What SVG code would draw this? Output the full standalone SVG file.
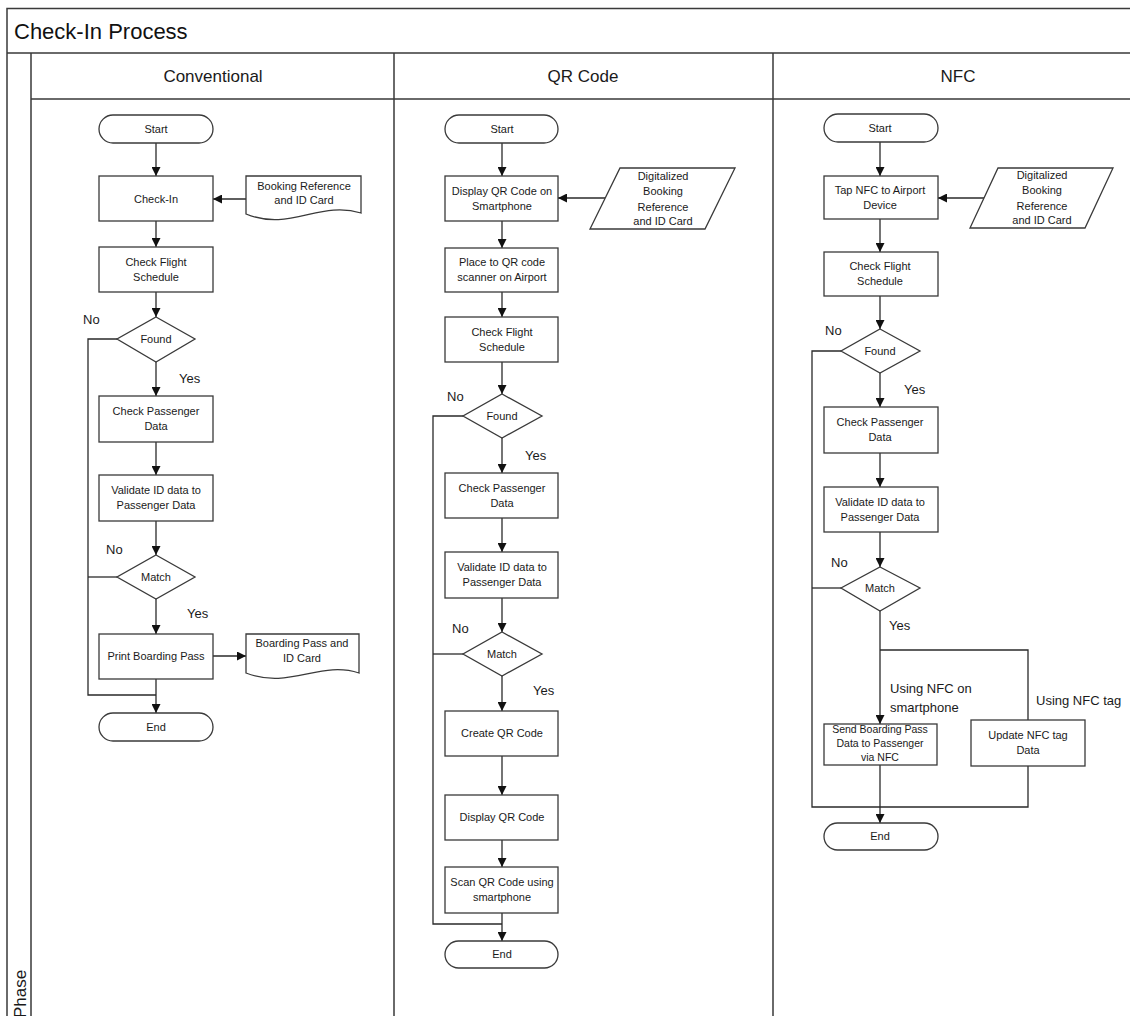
<svg xmlns="http://www.w3.org/2000/svg" width="1130" height="1016" viewBox="0 0 1130 1016">
<style>
.frame{fill:none;stroke:#3a3a3a;stroke-width:1.5}
.shape{fill:#fff;stroke:#3a3a3a;stroke-width:1.3}
.conn{fill:none;stroke:#2a2a2a;stroke-width:1.3}
.t{font-family:"Liberation Sans",Arial,sans-serif;font-size:11px;fill:#1a1a1a;text-anchor:middle}
.ts{font-size:10.5px}
.lbl{font-family:"Liberation Sans",Arial,sans-serif;font-size:13px;fill:#1a1a1a}
.hdr{font-family:"Liberation Sans",Arial,sans-serif;font-size:17px;fill:#1a1a1a;text-anchor:middle}
.title{font-family:"Liberation Sans",Arial,sans-serif;font-size:22px;fill:#111}
</style>
<defs>
<marker id="arr" viewBox="0 0 10 10" refX="10" refY="5" markerWidth="9" markerHeight="9" markerUnits="userSpaceOnUse" orient="auto">
<path d="M0,0 L10,5 L0,10 z" fill="#111"/>
</marker>
</defs>
<rect width="1130" height="1016" fill="#fff"/>

<g id="pool">
<path class="frame" d="M7,1016 V8.5 H1130 M7,53 H1130 M31,53 V1016 M31,99 H1130 M394,53 V1016 M773,53 V1016"/>
<text class="title" x="14" y="39">Check-In Process</text>
<text class="hdr" x="213" y="82">Conventional</text>
<text class="hdr" x="583" y="82">QR Code</text>
<text class="hdr" x="958" y="82">NFC</text>
<text class="hdr" transform="translate(26,1018) rotate(-90)" style="text-anchor:start">Phase</text>
</g>

<g id="connectors">
<!-- Conventional -->
<path class="conn" marker-end="url(#arr)" d="M156,143 V176"/>
<path class="conn" marker-end="url(#arr)" d="M246,199 H213"/>
<path class="conn" marker-end="url(#arr)" d="M156,221 V247"/>
<path class="conn" marker-end="url(#arr)" d="M156,292 V317"/>
<path class="conn" marker-end="url(#arr)" d="M156,362 V396"/>
<path class="conn" marker-end="url(#arr)" d="M156,442 V475"/>
<path class="conn" marker-end="url(#arr)" d="M156,521 V555"/>
<path class="conn" marker-end="url(#arr)" d="M156,599 V634"/>
<path class="conn" marker-end="url(#arr)" d="M213,656 H246"/>
<path class="conn" marker-end="url(#arr)" d="M156,679 V713"/>
<path class="conn" d="M117,339 H88 V695 H156"/>
<path class="conn" d="M117,577 H88"/>
<!-- QR -->
<path class="conn" marker-end="url(#arr)" d="M502,143 V176"/>
<path class="conn" marker-end="url(#arr)" d="M605,198 H558"/>
<path class="conn" marker-end="url(#arr)" d="M502,221 V248"/>
<path class="conn" marker-end="url(#arr)" d="M502,292 V317"/>
<path class="conn" marker-end="url(#arr)" d="M502,362 V394"/>
<path class="conn" marker-end="url(#arr)" d="M502,438 V473"/>
<path class="conn" marker-end="url(#arr)" d="M502,518 V552"/>
<path class="conn" marker-end="url(#arr)" d="M502,598 V632"/>
<path class="conn" marker-end="url(#arr)" d="M502,676 V711"/>
<path class="conn" marker-end="url(#arr)" d="M502,756 V795"/>
<path class="conn" marker-end="url(#arr)" d="M502,840 V867"/>
<path class="conn" marker-end="url(#arr)" d="M502,913 V941"/>
<path class="conn" d="M463,416 H433 V924 H502"/>
<path class="conn" d="M463,654 H433"/>
<!-- NFC -->
<path class="conn" marker-end="url(#arr)" d="M880,142 V176"/>
<path class="conn" marker-end="url(#arr)" d="M984,198 H938"/>
<path class="conn" marker-end="url(#arr)" d="M880,219 V252"/>
<path class="conn" marker-end="url(#arr)" d="M880,296 V329"/>
<path class="conn" marker-end="url(#arr)" d="M880,373 V407"/>
<path class="conn" marker-end="url(#arr)" d="M880,453 V487"/>
<path class="conn" marker-end="url(#arr)" d="M880,532 V567"/>
<path class="conn" marker-end="url(#arr)" d="M880,611 V724"/>
<path class="conn" d="M880,650 H1028 V720"/>
<path class="conn" marker-end="url(#arr)" d="M880,765 V823"/>
<path class="conn" d="M841,351 H812 V807 H1028 V766"/>
<path class="conn" d="M841,588 H812"/>
</g>

<g id="labels">
<text class="lbl" x="83" y="324">No</text>
<text class="lbl" x="179" y="383">Yes</text>
<text class="lbl" x="106" y="554">No</text>
<text class="lbl" x="187" y="618">Yes</text>
<text class="lbl" x="447" y="401">No</text>
<text class="lbl" x="525" y="460">Yes</text>
<text class="lbl" x="452" y="633">No</text>
<text class="lbl" x="533" y="695">Yes</text>
<text class="lbl" x="825" y="335">No</text>
<text class="lbl" x="904" y="394">Yes</text>
<text class="lbl" x="831" y="567">No</text>
<text class="lbl" x="889" y="630">Yes</text>
<text class="lbl" x="890" y="693">Using NFC on</text>
<text class="lbl" x="890" y="712">smartphone</text>
<text class="lbl" x="1036" y="705">Using NFC tag</text>
</g>

<!-- Conventional nodes -->
<g id="c-start"><rect class="shape" x="99" y="115" width="114" height="28" rx="14"/><text class="t" x="156" y="133">Start</text></g>
<g id="c-checkin"><rect class="shape" x="99" y="176" width="114" height="45"/><text class="t" x="156" y="203">Check-In</text></g>
<g id="c-doc1"><path class="shape" d="M246,176 H361 V213 C320,200 290,232 246,214 Z"/><text class="t" x="304" y="190">Booking Reference</text><text class="t" x="304" y="204">and ID Card</text></g>
<g id="c-flight"><rect class="shape" x="99" y="247" width="114" height="45"/><text class="t" x="156" y="266">Check Flight</text><text class="t" x="156" y="281">Schedule</text></g>
<g id="c-found"><path class="shape" d="M156,317 L195,339 L156,362 L117,339 Z"/><text class="t" x="156" y="343">Found</text></g>
<g id="c-pass"><rect class="shape" x="99" y="396" width="114" height="46"/><text class="t" x="156" y="415">Check Passenger</text><text class="t" x="156" y="430">Data</text></g>
<g id="c-valid"><rect class="shape" x="99" y="475" width="114" height="46"/><text class="t" x="156" y="494">Validate ID data to</text><text class="t" x="156" y="509">Passenger Data</text></g>
<g id="c-match"><path class="shape" d="M156,555 L195,577 L156,599 L117,577 Z"/><text class="t" x="156" y="581">Match</text></g>
<g id="c-print"><rect class="shape" x="99" y="634" width="114" height="45"/><text class="t" x="156" y="660">Print Boarding Pass</text></g>
<g id="c-doc2"><path class="shape" d="M246,634 H359 V673 C320,660 290,690 246,673 Z"/><text class="t" x="302" y="647">Boarding Pass and</text><text class="t" x="302" y="662">ID Card</text></g>
<g id="c-end"><rect class="shape" x="99" y="713" width="114" height="28" rx="14"/><text class="t" x="156" y="731">End</text></g>

<!-- QR nodes -->
<g id="q-start"><rect class="shape" x="445" y="115" width="113" height="28" rx="14"/><text class="t" x="502" y="133">Start</text></g>
<g id="q-display"><rect class="shape" x="445" y="176" width="113" height="45"/><text class="t" x="502" y="195">Display QR Code on</text><text class="t" x="502" y="210">Smartphone</text></g>
<g id="q-input"><path class="shape" d="M620,168 H735 L705,229 H590 Z"/><text class="t" x="663" y="180">Digitalized</text><text class="t" x="663" y="195">Booking</text><text class="t" x="663" y="211">Reference</text><text class="t" x="663" y="225">and ID Card</text></g>
<g id="q-place"><rect class="shape" x="445" y="248" width="113" height="44"/><text class="t" x="502" y="266">Place to QR code</text><text class="t" x="502" y="281">scanner on Airport</text></g>
<g id="q-flight"><rect class="shape" x="445" y="317" width="113" height="45"/><text class="t" x="502" y="336">Check Flight</text><text class="t" x="502" y="351">Schedule</text></g>
<g id="q-found"><path class="shape" d="M502,394 L542,416 L502,438 L463,416 Z"/><text class="t" x="502" y="420">Found</text></g>
<g id="q-pass"><rect class="shape" x="445" y="473" width="113" height="45"/><text class="t" x="502" y="492">Check Passenger</text><text class="t" x="502" y="507">Data</text></g>
<g id="q-valid"><rect class="shape" x="445" y="552" width="113" height="46"/><text class="t" x="502" y="571">Validate ID data to</text><text class="t" x="502" y="586">Passenger Data</text></g>
<g id="q-match"><path class="shape" d="M502,632 L542,654 L502,676 L463,654 Z"/><text class="t" x="502" y="658">Match</text></g>
<g id="q-create"><rect class="shape" x="445" y="711" width="113" height="45"/><text class="t" x="502" y="737">Create QR Code</text></g>
<g id="q-show"><rect class="shape" x="445" y="795" width="113" height="45"/><text class="t" x="502" y="821">Display QR Code</text></g>
<g id="q-scan"><rect class="shape" x="445" y="867" width="113" height="46"/><text class="t" x="502" y="886">Scan QR Code using</text><text class="t" x="502" y="901">smartphone</text></g>
<g id="q-end"><rect class="shape" x="445" y="941" width="113" height="27" rx="13.5"/><text class="t" x="502" y="958">End</text></g>

<!-- NFC nodes -->
<g id="n-start"><rect class="shape" x="824" y="114" width="114" height="28" rx="14"/><text class="t" x="880" y="132">Start</text></g>
<g id="n-tap"><rect class="shape" x="824" y="176" width="114" height="43"/><text class="t" x="880" y="194">Tap NFC to Airport</text><text class="t" x="880" y="209">Device</text></g>
<g id="n-input"><path class="shape" d="M998,168 H1113 L1085,228 H970 Z"/><text class="t" x="1042" y="179">Digitalized</text><text class="t" x="1042" y="194">Booking</text><text class="t" x="1042" y="210">Reference</text><text class="t" x="1042" y="224">and ID Card</text></g>
<g id="n-flight"><rect class="shape" x="824" y="252" width="114" height="44"/><text class="t" x="880" y="270">Check Flight</text><text class="t" x="880" y="285">Schedule</text></g>
<g id="n-found"><path class="shape" d="M880,329 L920,351 L880,373 L841,351 Z"/><text class="t" x="880" y="355">Found</text></g>
<g id="n-pass"><rect class="shape" x="824" y="407" width="114" height="46"/><text class="t" x="880" y="426">Check Passenger</text><text class="t" x="880" y="441">Data</text></g>
<g id="n-valid"><rect class="shape" x="824" y="487" width="114" height="45"/><text class="t" x="880" y="506">Validate ID data to</text><text class="t" x="880" y="521">Passenger Data</text></g>
<g id="n-match"><path class="shape" d="M880,567 L920,588 L880,611 L841,588 Z"/><text class="t" x="880" y="592">Match</text></g>
<g id="n-send"><rect class="shape" x="824" y="724" width="113" height="41"/><text class="t ts" x="880" y="733">Send Boarding Pass</text><text class="t ts" x="880" y="747">Data to Passenger</text><text class="t ts" x="880" y="761">via NFC</text></g>
<g id="n-update"><rect class="shape" x="971" y="720" width="114" height="46"/><text class="t" x="1028" y="739">Update NFC tag</text><text class="t" x="1028" y="754">Data</text></g>
<g id="n-end"><rect class="shape" x="824" y="823" width="114" height="27" rx="13.5"/><text class="t" x="880" y="840">End</text></g>
</svg>
